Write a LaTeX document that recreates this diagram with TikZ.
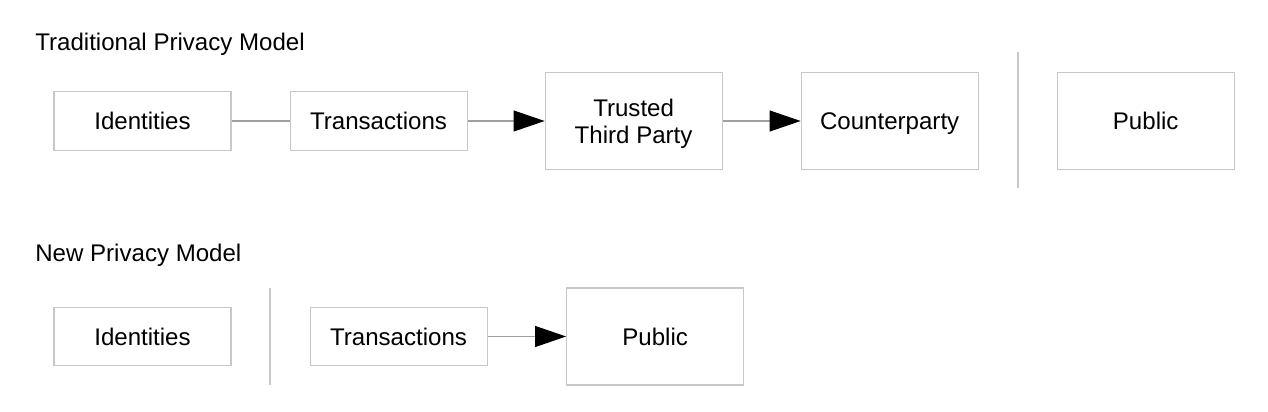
\documentclass[tikz,border=0pt]{standalone}
\usepackage{fontspec}
\setmainfont{Liberation Sans}
\usetikzlibrary{positioning,arrows.meta}
\definecolor{PMBorder}{HTML}{C8C8C8}
\definecolor{PMLine}{HTML}{A0A0A0}
\tikzset{
  pmbox/.style={
    rectangle,
    draw=PMBorder,
    line width=0.6pt,
    fill=white,
    align=center,
    inner sep=0pt,
    font=\fontsize{13.7}{15.4}\selectfont,
    minimum width=3.54cm,
    minimum height=1.17cm
  },
  pmbig/.style={pmbox,minimum height=1.94cm,text depth=0pt},
  pmarrow/.style={-{Triangle[length=6.2mm,width=4.2mm,color=black]},line width=0.6pt,draw=PMLine},
  pmlink/.style={line width=0.6pt,draw=PMLine},
  pmdivider/.style={line width=0.6pt,draw=PMBorder},
  pmtitle/.style={font=\fontsize{13.7}{15.4}\selectfont,anchor=base west,inner sep=0pt},
}
\begin{document}
\begin{tikzpicture}
  \useasboundingbox (0,0) rectangle (25.36,-8.24);

  % traditional model
  \node[pmtitle] (trad) at (0.70,-1.02) {Traditional Privacy Model};
  \node[pmbox] (tid) at (2.85,-2.42) {Identities};
  \node[pmbox,right=1.16cm of tid] (ttx) {Transactions};
  \node[pmbig,right=1.54cm of ttx] (tttp) {Trusted\\Third Party};
  \node[pmbig,right=1.56cm of tttp] (tcp) {Counterparty};
  \node[pmbig,right=1.56cm of tcp] (tpub) {Public};
  \coordinate (tdtop) at (20.36,-1.04);
  \coordinate (tdbot) at (20.36,-3.76);

  \draw[pmlink] (tid) -- (ttx);
  \draw[pmarrow] (ttx) -- (tttp);
  \draw[pmarrow] (tttp) -- (tcp);
  \draw[pmdivider] (tdtop) -- (tdbot);

  % new model
  \node[pmtitle] (new) at (0.70,-5.24) {New Privacy Model};
  \node[pmbox] (nid) at (2.85,-6.73) {Identities};
  \node[pmbox,right=1.56cm of nid] (ntx) {Transactions};
  \node[pmbig,right=1.57cm of ntx] (npub) {Public};
  \coordinate (ndtop) at (5.40,-5.76);
  \coordinate (ndbot) at (5.40,-7.70);

  \draw[pmarrow] (ntx) -- (npub);
  \draw[pmdivider] (ndtop) -- (ndbot);
\end{tikzpicture}
\end{document}
